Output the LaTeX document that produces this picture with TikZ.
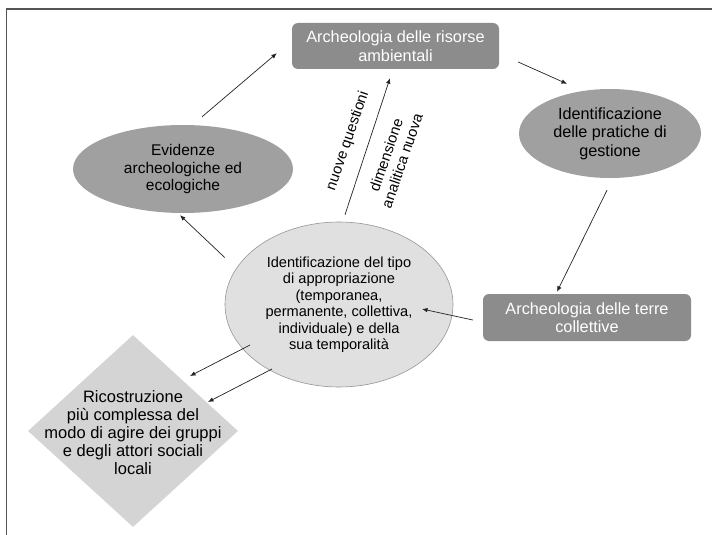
\documentclass[tikz,border=0pt]{standalone}
\usepackage{fontspec}
\setmainfont{Liberation Sans}
\usetikzlibrary{shapes.geometric,arrows.meta,calc}
\definecolor{boxgray}{RGB}{140,140,140}
\definecolor{ellgray}{RGB}{160,160,160}
\definecolor{lightell}{RGB}{224,224,224}
\definecolor{ellborder}{RGB}{150,150,150}
\definecolor{diamgray}{RGB}{212,212,212}
\definecolor{framegray}{RGB}{85,85,85}
\definecolor{arrowcol}{RGB}{35,35,35}
\begin{document}
\begin{tikzpicture}[x=1pt,y=-1pt,
  box/.style={rectangle, rounded corners=6pt, fill=boxgray, text=white,
    minimum width=207pt, minimum height=46pt, align=center, inner sep=0pt,
    font=\fontsize{16.3}{18.5}\selectfont},
  ell/.style={ellipse, fill=ellgray, text=black, align=center, inner sep=0pt},
  cell/.style={ellipse, fill=lightell, draw=ellborder, line width=0.6pt,
    text=black, align=center, inner sep=0pt,
    font=\fontsize{14.6}{16.5}\selectfont},
  diam/.style={diamond, fill=diamgray, inner sep=0pt},
  dtext/.style={align=center, inner sep=0pt, font=\fontsize{16.5}{18}\selectfont},
  lbl/.style={align=center, inner sep=0pt, rotate=71, font=\fontsize{14.8}{17}\selectfont},
  arr/.style={draw=arrowcol, line width=0.7pt, -{Latex[length=5.5pt,width=4.5pt]}}
]
\useasboundingbox (0,0) rectangle (712,535);
\fill[white] (0,0) rectangle (712,535);
% frame
\draw[framegray, line width=1.6pt] (6.5,535) -- (6.5,9) -- (712,9);

% nodes
\node[box] (top) at (395.5,46) {Archeologia delle risorse\\ambientali};
\node[box, minimum width=208pt, minimum height=47pt] (terre) at (587,317.5) {Archeologia delle terre\\collettive};
\node[ell, minimum width=220pt, minimum height=88pt, font=\fontsize{15.5}{17.5}\selectfont] (evid) at (183,169) {Evidenze\\archeologiche ed\\ecologiche};
\node[ell, minimum width=182pt, minimum height=89pt, font=\fontsize{16.2}{18.5}\selectfont] (prat) at (610,133.5) {Identificazione\\delle pratiche di\\gestione};
\node[cell, minimum width=228pt, minimum height=165pt] (ident) at (339,304.5) {Identificazione del tipo\\di appropriazione\\(temporanea,\\permanente, collettiva,\\individuale) e della\\sua temporalità};
\node[diam, minimum width=210pt, minimum height=192pt] (ric) at (133,431) {};
\node[dtext] (rictxt) at (133,432.5) {Ricostruzione\\più complessa del\\modo di agire dei gruppi\\e degli attori sociali\\locali};

% connectors
\draw[arr] ($(evid.north)+(19,-8)$) -- ($(top.south west)+(-15,-16)$);
\draw[arr] ($(top.east)+(19,16)$) -- ($(prat.north)+(-43,-5)$);
\draw[arr] ($(prat.south)+(-3,12)$) -- ($(terre.north)+(-30,-2)$);
\draw[arr] ($(terre.west)+(-10,2.5)$) -- ($(ident.center)+(83,4.5)$);
\draw[arr] ($(ident.west)+(0,-47)$) -- ($(evid.south)+(-3,2)$);
\draw[arr] ($(ident.center)+(-89,40.5)$) -- ($(ric.center)+(57,-55)$);
\draw[arr] ($(ident.center)+(-67,64.5)$) -- ($(ric.center)+(75,-29)$);
\coordinate (vstart) at ($(ident.north)+(6,-7)$);
\coordinate (vend) at ($(top.south)+(-5.5,9)$);
\draw[arr] (vstart) -- (vend);

% labels on the vertical arrow
\node[lbl] (lq) at (348,141) {nuove questioni};
\node[lbl] (ld) at (394,158) {dimensione\\analitica nuova};
\end{tikzpicture}
\end{document}
